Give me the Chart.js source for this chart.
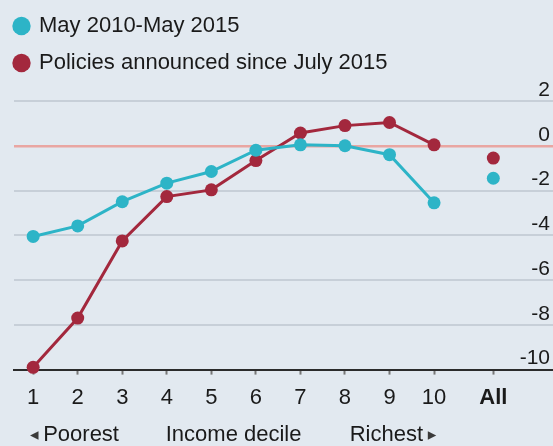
<!DOCTYPE html>
<html>
<head>
<meta charset="utf-8">
<script src="https://cdn.jsdelivr.net/npm/chart.js@4.4.1/dist/chart.umd.min.js"></script>
<style>
  html, body { margin: 0; padding: 0; background: #e2e9f0; }
  canvas { display: block; }
</style>
</head>
<body>
<canvas id="decileChart" width="553" height="446"></canvas>
<script>
    // values, % change in net income
    var DECILES = ['1', '2', '3', '4', '5', '6', '7', '8', '9', '10', 'All'];
    var DECILE_X = [1, 2, 3, 4, 5, 6, 7, 8, 9, 10, 11.33];
    var MAY2010_2015 = [-4.05, -3.58, -2.5, -1.67, -1.15, -0.2, 0.04, 0.0, -0.4, -2.55, -1.45];
    var SINCE_JULY2015 = [-9.9, -7.7, -4.25, -2.27, -1.97, -0.66, 0.57, 0.9, 1.04, 0.04, -0.55];
    var Y_TICKS = [-10, -8, -6, -4, -2, 0, 2];

    var FONT = 'Liberation Sans';
    var TEXT = '#1a1a1a';
    var CYAN = '#2db4c7';
    var RED = '#a3283d';

    function toPoints(values) {
        return values.map(function (v, i) { return { x: DECILE_X[i], y: v }; });
    }

    // the "All" point is not joined to decile 10
    var hideLastSegment = {
        borderColor: function (ctx) {
            return ctx.p1DataIndex === DECILES.length - 1 ? 'transparent' : undefined;
        }
    };

    var legendSpacer = {
        id: 'legendSpacer',
        beforeInit: function (chart) {
            var fit = chart.legend.fit;
            chart.legend.fit = function () {
                fit.call(this);
                this.height = 101;
            };
        }
    };

    var bottomCaption = {
        id: 'bottomCaption',
        afterDraw: function (chart) {
            var ctx = chart.ctx;
            var x = chart.scales.x;
            var y = 435;
            ctx.save();
            ctx.textBaseline = 'middle';
            ctx.fillStyle = TEXT;
            ctx.font = '22px "' + FONT + '"';
            ctx.textAlign = 'left';
            ctx.fillText('Poorest', x.getPixelForValue(1) + 10, y);
            ctx.textAlign = 'center';
            ctx.fillText('Income decile', x.getPixelForValue(5.5), y);
            ctx.textAlign = 'right';
            ctx.fillText('Richest', x.getPixelForValue(10) - 11, y);
            ctx.fillStyle = '#3a3a3a';
            ctx.font = '17px "DejaVu Sans"';
            ctx.textAlign = 'center';
            ctx.fillText('\u25C2', x.getPixelForValue(1) + 1, y + 1);
            ctx.fillText('\u25B8', x.getPixelForValue(10) - 2, y + 1);
            ctx.restore();
        }
    };

    new Chart(document.getElementById('decileChart'), {
        type: 'line',
        data: {
            datasets: [{
                label: 'May 2010-May 2015',
                data: toPoints(MAY2010_2015),
                borderColor: CYAN,
                backgroundColor: CYAN,
                pointBackgroundColor: CYAN,
                pointBorderWidth: 0,
                pointRadius: 6.5,
                borderWidth: 3,
                segment: hideLastSegment,
                clip: false
            }, {
                label: 'Policies announced since July 2015',
                data: toPoints(SINCE_JULY2015),
                borderColor: RED,
                backgroundColor: RED,
                pointBackgroundColor: RED,
                pointBorderWidth: 0,
                pointRadius: 6.5,
                borderWidth: 3,
                segment: hideLastSegment,
                clip: false
            }]
        },
        options: {
            responsive: false,
            animation: false,
            layout: { autoPadding: false, padding: { top: 0, left: 0, right: 0, bottom: 25 } },
            plugins: {
                tooltip: { enabled: false },
                legend: {
                    position: 'top',
                    align: 'start',
                    labels: {
                        usePointStyle: true,
                        pointStyle: 'circle',
                        boxWidth: 13,
                        boxHeight: 13,
                        padding: 15,
                        color: TEXT,
                        font: { family: FONT, size: 22 }
                    }
                }
            },
            scales: {
                x: {
                    type: 'linear',
                    min: 0.57,
                    max: 12.67,
                    afterBuildTicks: function (axis) {
                        axis.ticks = DECILE_X.map(function (v) { return { value: v }; });
                    },
                    grid: {
                        drawOnChartArea: false,
                        drawTicks: true,
                        tickLength: 5,
                        tickColor: '#777',
                        tickWidth: 2
                    },
                    border: { display: true, color: '#2b2b2b', width: 2 },
                    ticks: {
                        autoSkip: false,
                        maxRotation: 0,
                        padding: 10,
                        color: TEXT,
                        font: function (ctx) {
                            return { family: FONT, size: 22, weight: ctx.index === DECILES.length - 1 ? 'bold' : 'normal' };
                        },
                        callback: function (value, index) {
                            return DECILES[index];
                        }
                    }
                },
                y: {
                    position: 'right',
                    min: -10,
                    max: 2,
                    afterBuildTicks: function (axis) {
                        axis.ticks = Y_TICKS.map(function (v) { return { value: v }; });
                    },
                    afterFit: function (axis) { axis.width = 0; },
                    grid: {
                        drawTicks: false,
                        lineWidth: function (ctx) { return ctx.tick && ctx.tick.value === 0 ? 2.5 : 2; },
                        color: function (ctx) { return ctx.tick && ctx.tick.value === 0 ? '#e9a6a2' : '#c7cfd8'; }
                    },
                    border: { display: false },
                    ticks: {
                        mirror: true,
                        padding: -3,
                        labelOffset: -11,
                        color: TEXT,
                        font: { family: FONT, size: 21 }
                    }
                },
                // empty strip on the left, like the original
                yLeft: {
                    position: 'left',
                    grid: { display: false },
                    border: { display: false },
                    ticks: { display: false },
                    afterFit: function (axis) { axis.width = 14; }
                }
            }
        },
        plugins: [legendSpacer, bottomCaption]
    });
</script>
</body>
</html>
